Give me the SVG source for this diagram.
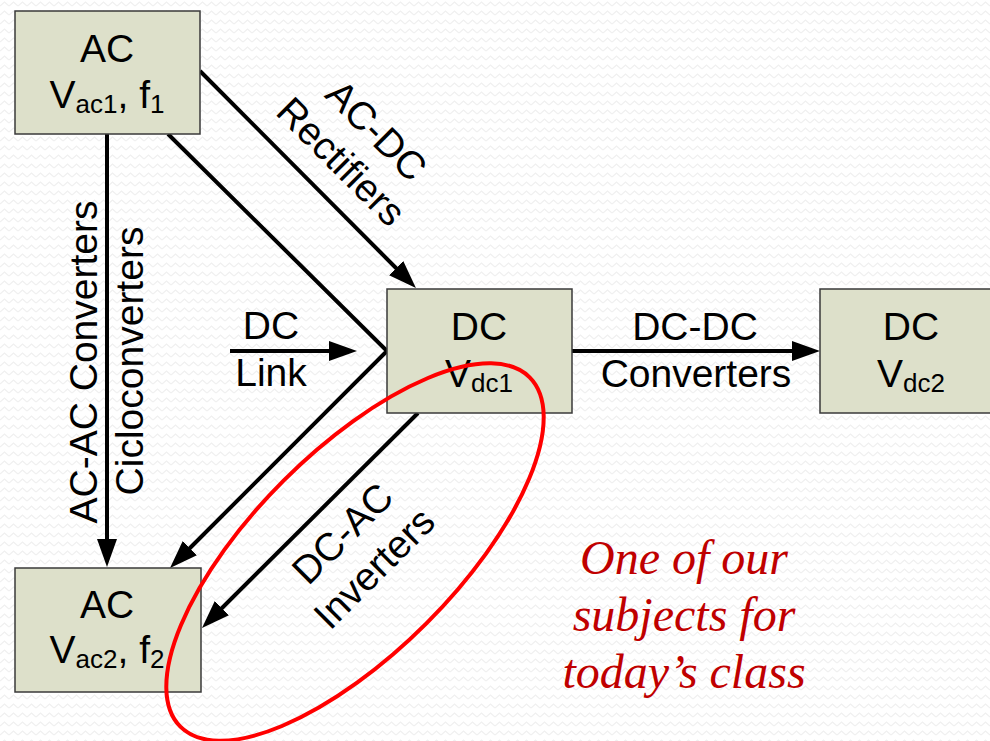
<svg xmlns="http://www.w3.org/2000/svg" width="990" height="741" viewBox="0 0 990 741">
<defs>
<pattern id="bg" width="9" height="9" patternUnits="userSpaceOnUse">
<path d="M0,6 L4.5,2 L9,6" fill="none" stroke="#f0f0f0" stroke-width="1.3"/>
</pattern>
<marker id="ah" markerUnits="userSpaceOnUse" markerWidth="28" markerHeight="20" refX="4" refY="10" orient="auto">
<path d="M0,0 L28,10 L0,20 z" fill="#000"/>
</marker>
<style>
.box{fill:#dde0ca;stroke:#3a3a3a;stroke-width:1.5}
.t{font-family:"Liberation Sans",Arial,sans-serif;font-size:39px;fill:#000;text-anchor:middle}
.sub{font-size:26px}
.c{fill:none;stroke:#000;stroke-width:4}
.a{marker-end:url(#ah)}
.note{font-family:"Liberation Serif","Times New Roman",serif;font-style:italic;font-size:48px;fill:#c00000;text-anchor:middle}
</style>
</defs>
<rect width="990" height="741" fill="#fff"/>
<rect width="990" height="741" fill="url(#bg)"/>

<g id="connectors">
<line class="c a" x1="200" y1="71" x2="399" y2="271"/>
<line class="c a" x1="107" y1="134" x2="107" y2="543"/>
<line class="c a" x1="230" y1="351" x2="333" y2="351"/>
<polyline class="c a" points="168,134 387,351 187,551"/>
<line class="c a" x1="572" y1="351" x2="796" y2="351"/>
<line class="c a" x1="418" y1="413" x2="219" y2="611"/>
</g>

<g id="node-ac1">
<rect class="box" x="15" y="11" width="185" height="123"/>
<text class="t" x="107" y="62">AC</text>
<text class="t" x="107" y="108">V<tspan class="sub" dy="5">ac1</tspan><tspan dy="-5">, f</tspan><tspan class="sub" dy="5">1</tspan></text>
</g>

<g id="node-dc1">
<rect class="box" x="387" y="289" width="185" height="124"/>
<text class="t" x="479" y="340">DC</text>
<text class="t" x="479" y="387">V<tspan class="sub" dy="5">dc1</tspan></text>
</g>

<g id="node-dc2">
<rect class="box" x="820" y="289" width="185" height="124"/>
<text class="t" x="911" y="340">DC</text>
<text class="t" x="911" y="387">V<tspan class="sub" dy="5">dc2</tspan></text>
</g>

<g id="node-ac2">
<rect class="box" x="15" y="568" width="186" height="124"/>
<text class="t" x="107" y="618">AC</text>
<text class="t" x="107" y="663">V<tspan class="sub" dy="5">ac2</tspan><tspan dy="-5">, f</tspan><tspan class="sub" dy="5">2</tspan></text>
</g>

<g id="labels">
<g transform="translate(377,130) rotate(45)">
<text class="t" x="0" y="14">AC-DC</text>
<text class="t" x="-3" y="61">Rectifiers</text>
</g>
<g transform="translate(97,362) rotate(-90)">
<text class="t" x="0" y="0">AC-AC Converters</text>
</g>
<g transform="translate(143,361) rotate(-90)">
<text class="t" x="0" y="0">Cicloconverters</text>
</g>
<text class="t" x="271" y="339">DC</text>
<text class="t" x="271" y="386">Link</text>
<text class="t" x="695" y="340">DC-DC</text>
<text class="t" x="696" y="387">Converters</text>
<g transform="translate(342,533) rotate(-45)">
<text class="t" x="0" y="14">DC-AC</text>
<text class="t" x="-2" y="61">Inverters</text>
</g>
</g>

<ellipse id="highlight" cx="355" cy="552" rx="247" ry="101" transform="rotate(-45 355 552)" fill="none" stroke="#ff0000" stroke-width="4"/>

<g id="note">
<text class="note" x="684" y="574">One of our</text>
<text class="note" x="684" y="631">subjects for</text>
<text class="note" x="684" y="688">today’s class</text>
</g>
</svg>
